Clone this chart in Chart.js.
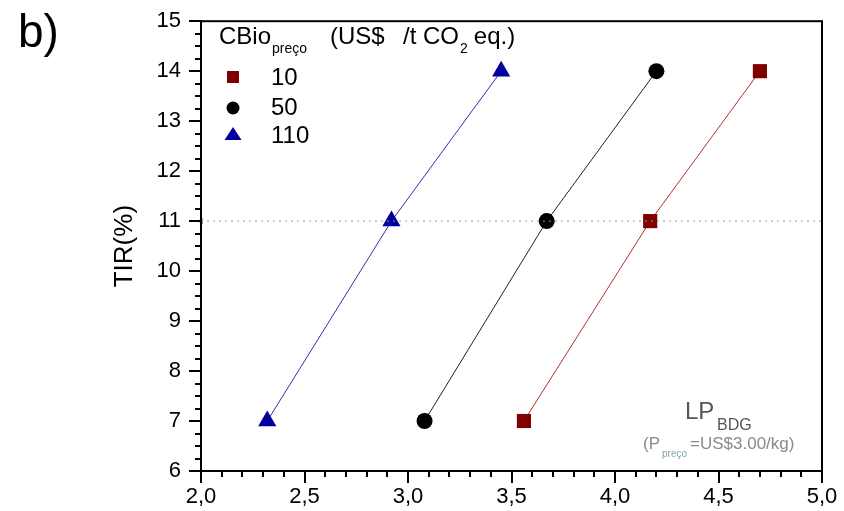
<!DOCTYPE html>
<html>
<head>
<meta charset="utf-8">
<script src="https://cdn.jsdelivr.net/npm/chart.js@4.4.0/dist/chart.umd.min.js"></script>
<style>
  html, body { margin: 0; padding: 0; background: #fff; }
  #wrap { width: 844px; height: 511px; position: relative; }
</style>
</head>
<body>
<div id="wrap"><canvas id="c" width="844" height="511"></canvas></div>
<script>
// ---- data ----
const tirLevels = [7, 11, 14];              // TIR (%) values (y)
const cbioPrices = ['10', '50', '110'];    // CBio price series labels
const lpBdg10  = [3.56, 4.17, 4.70];        // x for CBio = 10
const lpBdg50  = [3.08, 3.67, 4.20];        // x for CBio = 50
const lpBdg110 = [2.32, 2.92, 3.45];        // x for CBio = 110
const refTIR = 11;                          // dotted reference line
const xRange = [2.0, 5.0];
const yRange = [6, 15];

const FONT = '"Liberation Sans", Arial, sans-serif';
const colors = ['#800000', '#000000', '#00009c'];
const lineColors = ['#b03030', '#202020', '#3030b0'];
const pointStyles = ['rect', 'circle', 'triangle'];
const pointRadii = [10, 8, 10.5];
const seriesX = [lpBdg10, lpBdg50, lpBdg110];

const datasets = seriesX.map((xs, i) => ({
  label: cbioPrices[i],
  data: xs.map((x, k) => ({ x: x, y: tirLevels[k] })),
  borderColor: lineColors[i],
  backgroundColor: colors[i],
  pointBackgroundColor: colors[i],
  pointBorderColor: colors[i],
  pointBorderWidth: 0,
  borderWidth: 1,
  pointStyle: pointStyles[i],
  pointRadius: pointRadii[i],
  showLine: true,
  tension: 0,
  clip: false
}));
datasets.unshift({
  label: 'ref',
  data: [{ x: xRange[0], y: refTIR }, { x: xRange[1], y: refTIR }],
  borderColor: '#9a9a9a',
  borderDash: [2, 4],
  borderWidth: 1,
  showLine: true,
  pointStyle: 'triangle',
  pointRotation: -90,
  pointRadius: [4, 0],
  pointBackgroundColor: '#9a9a9a',
  pointBorderWidth: 0,
  clip: false
});

function fmt(v) { return v.toFixed(1).replace('.', ','); }

const decor = {
  id: 'decor',
  afterDraw(chart) {
    const ctx = chart.ctx;
    const xs = chart.scales.x, ys = chart.scales.y;
    const a = chart.chartArea;
    ctx.save();
    // frame
    ctx.strokeStyle = '#000';
    ctx.lineWidth = 2;
    ctx.strokeRect(a.left, a.top, a.right - a.left, a.bottom - a.top);
    // ticks (outward), major + minor
    ctx.beginPath();
    const nx = Math.round((xRange[1] - xRange[0]) / 0.1);
    for (let i = 0; i <= nx; i++) {
      const px = Math.round(xs.getPixelForValue(xRange[0] + i * 0.1));
      const len = i % 5 === 0 ? 12 : 6;
      ctx.moveTo(px, a.bottom); ctx.lineTo(px, a.bottom + len);
    }
    const ny = Math.round((yRange[1] - yRange[0]) / 0.25);
    for (let i = 0; i <= ny; i++) {
      const py = Math.round(ys.getPixelForValue(yRange[0] + i * 0.25));
      const len = i % 4 === 0 ? 12 : 6;
      ctx.moveTo(a.left, py); ctx.lineTo(a.left - len, py);
    }
    ctx.stroke();

    // panel label
    ctx.fillStyle = '#000';
    ctx.textBaseline = 'alphabetic';
    ctx.textAlign = 'left';
    ctx.font = '46px ' + FONT;
    ctx.fillText('b)', 18, 47);

    // legend title (flowing text with subscripts)
    const big = '24px ' + FONT, small = '14px ' + FONT;
    let x = 219;
    ctx.font = big; ctx.fillText('CBio', x, 44); x += ctx.measureText('CBio').width + 1;
    ctx.font = small; ctx.fillText('preço', x, 53);
    x = 330;
    ctx.font = big; ctx.fillText('(US$', x, 44);
    x = 403;
    ctx.fillText('/t CO', x, 44); x += ctx.measureText('/t CO').width + 1;
    ctx.font = small; ctx.fillText('2', x, 53); x += ctx.measureText('2').width + 6;
    ctx.font = big; ctx.fillText('eq.)', x, 44);

    // legend entries
    const rowsY = [77, 108, 134];
    const textY = [85, 115, 143];
    for (let i = 0; i < 3; i++) {
      const cx = 233, cy = rowsY[i];
      ctx.fillStyle = colors[i];
      ctx.beginPath();
      if (i === 0) {
        ctx.rect(cx - 6, cy - 6, 12, 12);
      } else if (i === 1) {
        ctx.arc(cx, cy, 6.5, 0, Math.PI * 2);
      } else {
        ctx.moveTo(cx, cy - 7); ctx.lineTo(cx + 8.5, cy + 6); ctx.lineTo(cx - 8.5, cy + 6); ctx.closePath();
      }
      ctx.fill();
      ctx.fillStyle = '#000';
      ctx.font = big;
      ctx.fillText(cbioPrices[i], 271, textY[i]);
    }

    // annotation
    ctx.fillStyle = '#555';
    ctx.font = '24px ' + FONT;
    ctx.fillText('LP', 685, 419);
    ctx.font = '16px ' + FONT;
    ctx.fillText('BDG', 717, 430);
    ctx.fillStyle = '#8a8a8a';
    ctx.font = '17px ' + FONT;
    ctx.fillText('(P', 643, 449);
    ctx.fillStyle = '#7aa6aa';
    ctx.font = '10px ' + FONT;
    ctx.fillText('preço', 662, 457);
    ctx.fillStyle = '#8a8a8a';
    ctx.font = '17px ' + FONT;
    ctx.fillText('=US$3.00/kg)', 690, 449);
    ctx.restore();
  }
};

new Chart(document.getElementById('c'), {
  type: 'scatter',
  data: { datasets },
  options: {
    responsive: false,
    animation: false,
    devicePixelRatio: 1,
    layout: { padding: { top: 17, right: 22, left: 100, bottom: 0 } },
    plugins: { legend: { display: false }, tooltip: { enabled: false } },
    scales: {
      x: {
        type: 'linear',
        min: xRange[0], max: xRange[1],
        afterFit: s => { s.height = 40; },
        grid: { display: false, drawTicks: true, tickLength: 12 },
        border: { display: true, color: '#000', width: 2 },
        ticks: {
          stepSize: 0.5, autoSkip: false, maxRotation: 0, padding: 1,
          color: '#000', font: { family: FONT, size: 22 },
          callback: v => fmt(v)
        }
      },
      y: {
        type: 'linear',
        min: yRange[0], max: yRange[1],
        afterFit: s => { s.width = 101; },
        grid: { display: false, drawTicks: true, tickLength: 12 },
        border: { display: true, color: '#000', width: 2 },
        ticks: {
          stepSize: 1, autoSkip: false, padding: 8,
          color: '#000', font: { family: FONT, size: 22 },
          callback: v => String(v)
        },
        title: {
          display: true, text: 'TIR(%)', color: '#000',
          font: { family: FONT, size: 26 }, padding: { top: 9, bottom: 0 }
        }
      }
    }
  },
  plugins: [decor]
});
</script>
</body>
</html>
